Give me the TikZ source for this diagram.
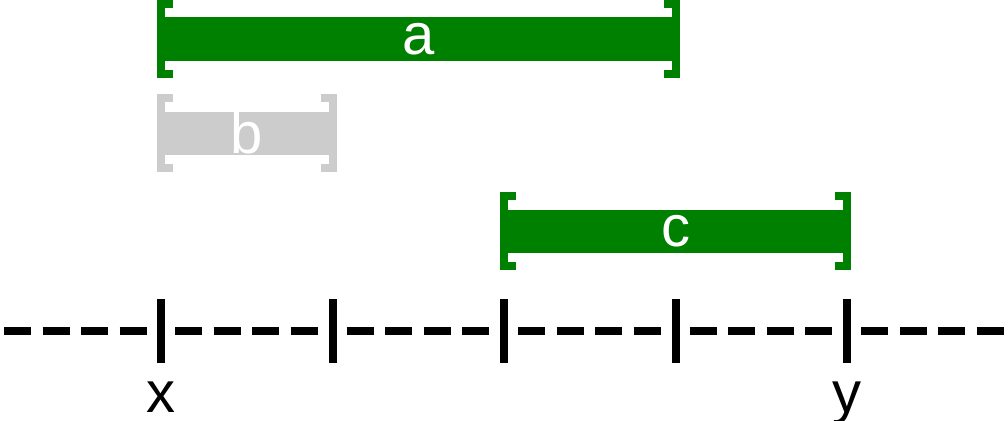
\documentclass[tikz,border=0pt]{standalone}
\usepackage{fontspec}
\setmainfont{Liberation Sans}
\usetikzlibrary{calc}
\definecolor{bargreen}{HTML}{008000}
\definecolor{bargray}{HTML}{CCCCCC}
\tikzset{
  bar/.style={fill=#1, inner sep=0pt, minimum height=43pt, text=white,
    font=\fontsize{58}{60}\selectfont},
  brk/.style={draw=#1, line width=7.8pt, miter limit=10, line join=miter},
  axisseg/.style={draw=black, line width=8pt, dash pattern=on 27pt off 11.5pt},
  tickmark/.style={draw=black, line width=8pt},
  lbl/.style={font=\fontsize{58}{60}\selectfont, anchor=base, inner sep=0pt}
}
\newcommand\bracketsof[2]{%
  \draw[brk=#2] ($(#1.west)+(12,-35)$) -- ($(#1.west)+(0,-35)$) -- ($(#1.west)+(0,35)$) -- ($(#1.west)+(12,35)$);
  \draw[brk=#2] ($(#1.east)+(-12,-35)$) -- ($(#1.east)+(0,-35)$) -- ($(#1.east)+(0,35)$) -- ($(#1.east)+(-12,35)$);
}
\begin{document}
\begin{tikzpicture}[x=1pt, y=-1pt]
  \useasboundingbox (0,0) rectangle (1008,420);
  % tick positions
  \coordinate (t0) at (161,331);
  \coordinate (t1) at (332.5,331);
  \coordinate (t2) at (504,331);
  \coordinate (t3) at (675.5,331);
  \coordinate (t4) at (847,331);
  \coordinate (le) at (4,331);
  \coordinate (re) at (1004,331);
  % dashed axis segments
  \draw[axisseg] (le) -- ($(t0)+(-14,0)$);
  \foreach \i/\j in {t0/t1,t1/t2,t2/t3,t3/t4}
    \draw[axisseg] ($(\i)+(14,0)$) -- ($(\j)+(-14,0)$);
  \draw[axisseg] ($(t4)+(14,0)$) -- (re);
  % ticks
  \foreach \t in {t0,t1,t2,t3,t4}
    \draw[tickmark] ($(\t)+(0,-32)$) -- ($(\t)+(0,32)$);
  % labels
  \node[lbl] (xl) at (161,412) {x};
  \node[lbl] (yl) at (847,412) {y};
  % bars
  \node[bar=bargreen, minimum width=514.5pt] (a) at (418.25,39) {a};
  \node[bar=bargray, minimum width=171.5pt] (b) at (246.75,133) {b};
  \node[bar=bargreen, minimum width=343pt] (c) at (675.5,231) {c};
  \bracketsof{a}{bargreen}
  \bracketsof{b}{bargray}
  \bracketsof{c}{bargreen}
\end{tikzpicture}
\end{document}
